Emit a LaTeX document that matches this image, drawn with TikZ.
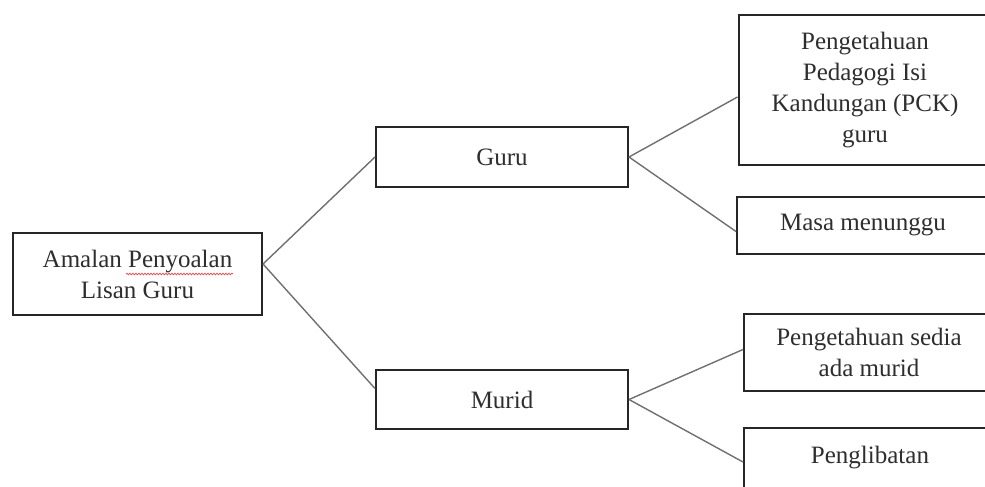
\documentclass[tikz,border=0pt]{standalone}
\usepackage{fontspec}
\setmainfont{Liberation Serif}
\usetikzlibrary{calc,decorations.pathmorphing}
\definecolor{boxcol}{HTML}{262626}
\definecolor{txtcol}{HTML}{2E2E2E}
\definecolor{linkcol}{HTML}{707070}
\definecolor{spellred}{HTML}{E05050}
\begin{document}
\begin{tikzpicture}[x=1pt,y=-1pt,
  box/.style={draw=boxcol, line width=2pt, rectangle, inner sep=0pt, align=center,
    text=txtcol, font=\fontsize{25}{31}\selectfont},
  link/.style={draw=linkcol, line width=1.4pt}]
\useasboundingbox (0,0) rectangle (985,487);
\clip (0,0) rectangle (985,487);
\fill[white] (0,0) rectangle (985,487);

\node[box, minimum width=249pt, minimum height=82pt] (main) at (137.5,274) {Amalan Penyoalan\\Lisan Guru};
\node[box, minimum width=252pt, minimum height=60pt] (guru) at (502,157) {Guru};
\node[box, minimum width=252pt, minimum height=59pt] (murid) at (502,399.5) {Murid};
\node[box, minimum width=253pt, minimum height=150pt] (pck) at (865,90) {Pengetahuan\\Pedagogi Isi\\Kandungan (PCK)\\guru};
\node[box, minimum width=252pt, minimum height=57pt] (masa) at (863,225.5) {Masa menunggu};
\node[box, minimum width=250pt, minimum height=77pt] (sedia) at (869,352.5) {Pengetahuan sedia\\ada murid};
\node[box, minimum width=252pt, minimum height=60pt] (libat) at (870,458) {Penglibatan};

\draw[spellred, line width=0.7pt, decorate, decoration={snake, amplitude=0.9pt, segment length=3pt}]
  (126,274) -- (233,274);

\coordinate (mainR) at ($(main.east)+(0,-10)$);
\draw[link] (mainR) -- (guru.west);
\draw[link] (mainR) -- ($(murid.west)+(0,-11)$);
\draw[link] (guru.east) -- ($(pck.west)+(0,7)$);
\draw[link] (guru.east) -- ($(masa.west)+(0,6)$);
\draw[link] (murid.east) -- ($(sedia.west)+(0,-3)$);
\draw[link] (murid.east) -- ($(libat.west)+(0,4)$);
\end{tikzpicture}
\end{document}
